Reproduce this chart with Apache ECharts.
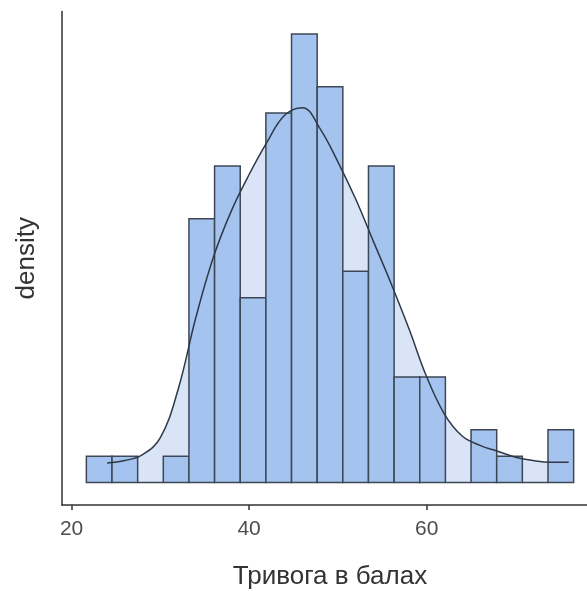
<!DOCTYPE html>
<html>
<head>
<meta charset="utf-8">
<script src="https://cdn.jsdelivr.net/npm/echarts@6/dist/echarts.min.js"></script>
<style>
  html, body { margin: 0; padding: 0; background: #ffffff; }
  #chart { width: 587px; height: 591px; }
</style>
</head>
<body>
<div id="chart"></div>
<script>
// Histogram bin edges (20 edges -> 19 bins) and counts per bin
const binEdges = [21.667, 24.556, 27.444, 30.333, 33.222, 36.111, 39.0, 41.889, 44.778, 47.667,
                  50.556, 53.444, 56.333, 59.222, 62.111, 65.0, 67.889, 70.778, 73.667, 76.556];
const binCounts = [1, 1, 0, 1, 10, 12, 7, 14, 17, 15, 8, 12, 4, 4, 0, 2, 1, 0, 2];

// Kernel density estimate: x values and density values
const densityX = [24, 26, 28, 30, 32, 34, 36, 38, 40, 42, 44, 46, 48, 50,
                  52, 54, 56, 58, 60, 62, 64, 66, 68, 70, 72, 74, 76];
const densityY = [0.0023, 0.0026, 0.0033, 0.0053, 0.0110, 0.0195, 0.0267, 0.0321, 0.0364, 0.0402,
                  0.0434, 0.0443, 0.0418, 0.0379, 0.0335, 0.0285, 0.0235, 0.0182, 0.0125, 0.0081,
                  0.0055, 0.0044, 0.0037, 0.0030, 0.0026, 0.0024, 0.0024];

// Axis tick labels
const xTicks = [20, 40, 60];

const total = binCounts.reduce((a, b) => a + b, 0);
const bars = binCounts.map((c, i) => {
  const w = binEdges[i + 1] - binEdges[i];
  return [binEdges[i], binEdges[i + 1], c / (total * w)];
});
const curve = densityX.map((x, i) => [x, densityY[i]]);

const maxDensity = Math.max(...bars.map(b => b[2]));
const xLo = binEdges[0], xHi = binEdges[binEdges.length - 1];
const xPad = (xHi - xLo) * 0.05;
const yPad = maxDensity * 0.05;

// The panel runs past the right edge of the canvas, so the visible x range is trimmed
const plotLeft = 62, fullPanelWidth = 536, visiblePanelWidth = 587 - plotLeft;
const xMin = xLo - xPad;
const xMax = xMin + (xHi + xPad - xMin) * visiblePanelWidth / fullPanelWidth;

const chart = echarts.init(document.getElementById('chart'), null, { renderer: 'canvas' });
const fontFamily = '"Liberation Sans", Arial, sans-serif';

chart.setOption({
  animation: false,
  grid: { left: plotLeft, right: 0, top: 11.5, bottom: 86, outerBoundsMode: 'none', containLabel: false },
  xAxis: {
    type: 'value',
    min: xMin,
    max: xMax,
    name: 'Тривога в балах',
    nameLocation: 'middle',
    nameGap: 59,
    nameTextStyle: { fontSize: 26, color: '#333333', fontFamily, padding: [0, 0, 0, 11] },
    splitLine: { show: false },
    axisLine: { show: true, onZero: false, lineStyle: { color: '#333333', width: 1.5 } },
    axisTick: { show: true, length: 5, customValues: xTicks, lineStyle: { color: '#333333', width: 1.5 } },
    axisLabel: { customValues: xTicks, fontSize: 21, color: '#4d4d4d', margin: 14, fontFamily }
  },
  yAxis: {
    type: 'value',
    min: -yPad,
    max: maxDensity + yPad,
    name: 'density',
    nameLocation: 'middle',
    nameGap: 22,
    nameRotate: 90,
    nameTextStyle: { fontSize: 26, color: '#333333', fontFamily },
    splitLine: { show: false },
    axisLine: { show: true, onZero: false, lineStyle: { color: '#333333', width: 1.5 } },
    axisTick: { show: false },
    axisLabel: { show: false }
  },
  series: [
    {
      // filled area under the density curve, behind the bars
      type: 'line',
      data: curve,
      smooth: 0.4,
      symbol: 'none',
      lineStyle: { width: 0, opacity: 0 },
      areaStyle: { color: '#d9e5f6', opacity: 1, origin: 0 },
      z: 1,
      silent: true
    },
    {
      type: 'custom',
      data: bars,
      z: 2,
      renderItem: function (params, api) {
        const p0 = api.coord([api.value(0), 0]);
        const p1 = api.coord([api.value(1), api.value(2)]);
        return {
          type: 'rect',
          shape: { x: p0[0], y: p1[1], width: p1[0] - p0[0], height: p0[1] - p1[1] },
          style: { fill: '#a5c3ef', stroke: '#3e4756', lineWidth: 1.5 }
        };
      }
    },
    {
      // density curve outline drawn on top of the bars
      type: 'line',
      data: curve,
      smooth: 0.4,
      symbol: 'none',
      lineStyle: { color: '#2e3947', width: 1.5 },
      z: 3,
      silent: true
    }
  ]
});
</script>
</body>
</html>
